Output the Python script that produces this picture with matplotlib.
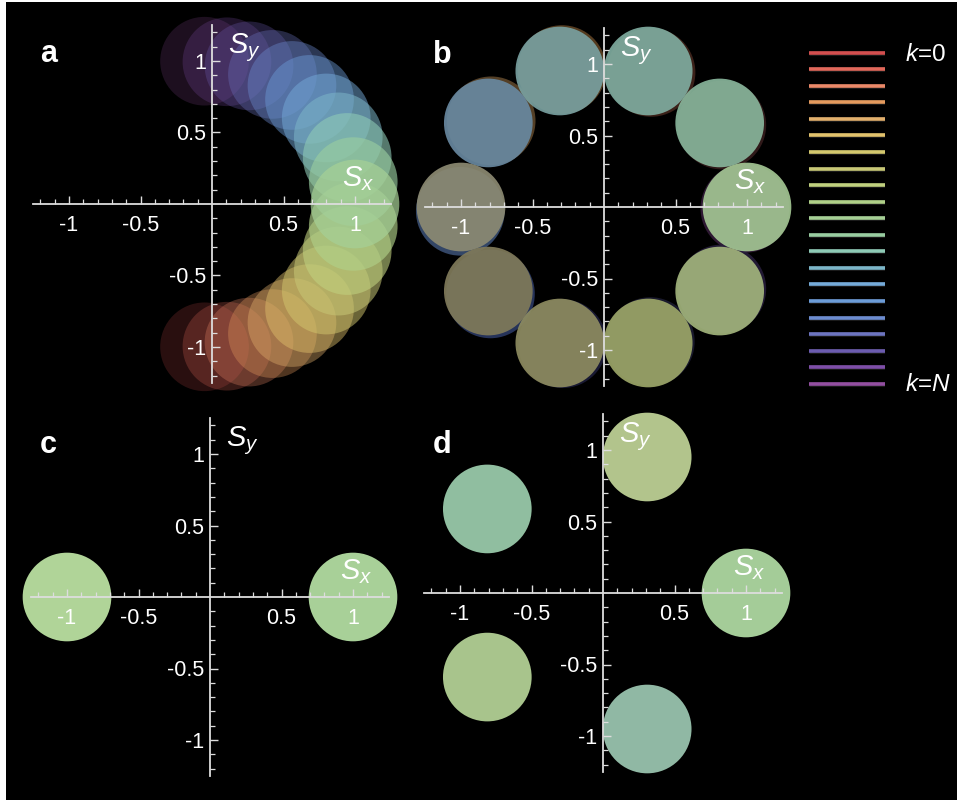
import numpy as np
import matplotlib
matplotlib.use("Agg")
import matplotlib.pyplot as plt
from matplotlib.patches import Circle, Rectangle

plt.rcParams["font.family"] = ["Liberation Sans", "DejaVu Sans"]
plt.rcParams["mathtext.fontset"] = "custom"
plt.rcParams["mathtext.rm"] = "Liberation Sans"
plt.rcParams["mathtext.it"] = "Liberation Sans:italic"
plt.rcParams["mathtext.bf"] = "Liberation Sans:bold"

# ---- data -------------------------------------------------------------
# colours of k = 0 .. N (legend, top to bottom)
k_colors = ["#d24e4e", "#e2685a", "#ea8868", "#e49a5e", "#e2b06c", "#e2c26c",
            "#d4c86e", "#c8c876", "#c0d07e", "#b0d088", "#a6d096", "#98cca0",
            "#8ecab6", "#7cb6c8", "#74aad8", "#6c9cd8", "#6c8cd0", "#6c74c0",
            "#6c5cb0", "#7e4ea8", "#924ea0"]

# panel a: direction of each k state (degrees) and its opacity
a_angle = [-93, -84, -75, -65, -56, -47, -37, -28, -19, -9, 0,
           9, 19, 28, 37, 47, 56, 65, 75, 84, 93]
a_alpha = [0.2, 0.25, 0.3, 0.35, 0.4, 0.45, 0.5, 0.55, 0.6, 0.65, 0.72,
           0.65, 0.6, 0.55, 0.5, 0.45, 0.4, 0.35, 0.3, 0.25, 0.2]

# panel b: ten directions, front colour, colour of the stack behind and its shift
b_angle = [0, 36, 72, 108, 144, 180, 216, 252, 288, 324]
b_front = ["#a3c693", "#88b59b", "#7fac9f", "#78a0a0", "#6888a0",
           "#8c8a72", "#807a5a", "#8e8c60", "#9ca668", "#a2b47c"]
b_back = ["#3a2040", "#3c2020", "#4a2a20", "#6a4a28", "#6a5030",
          "#405880", "#304070", "#202040", "#202038", "#2a2040"]
b_shift_x = [-0.015, 0.015, 0.02, 0.015, 0.02, -0.005, 0.015, 0.02, 0.015, 0.015]
b_shift_y = [-0.01, -0.015, -0.01, 0.01, 0.015, -0.03, -0.02, -0.005, 0.01, 0.015]

# panel c
c_angle = [0, 180]
c_colors = ["#a8d098", "#b0d498"]

# panel d
d_angle = [0, 72, 144, 216, 288]
d_colors = ["#a4cc98", "#b2c48c", "#90bea0", "#a8c48c", "#90b8a4"]

R = 0.31
major = [-1, -0.5, 0.5, 1]
major_lbl = ["-1", "-0.5", "0.5", "1"]
minor = [-1.2, -1.1, -0.9, -0.8, -0.7, -0.6, -0.4, -0.3, -0.2, -0.1,
         0.1, 0.2, 0.3, 0.4, 0.6, 0.7, 0.8, 0.9, 1.1, 1.2]

# ---- figure -----------------------------------------------------------
W, H, DPI = 957, 802, 100
SCALE = 143.0
fig = plt.figure(figsize=(W / DPI, H / DPI), dpi=DPI, facecolor="white")
fig.add_artist(Rectangle((6 / W, 2 / H), (W - 6) / W, (H - 4) / H,
                         transform=fig.transFigure, facecolor="black",
                         edgecolor="none", zorder=-10))


def make_axes(ox, oy):
    half = 1.25 * SCALE
    ax = fig.add_axes([(ox - half) / W, (H - oy - half) / H, 2 * half / W, 2 * half / H])
    ax.set_xlim(-1.25, 1.25)
    ax.set_ylim(-1.25, 1.25)
    ax.set_facecolor("none")
    ax.set_axisbelow(False)
    for s in ["top", "right"]:
        ax.spines[s].set_visible(False)
    for s in ["left", "bottom"]:
        ax.spines[s].set_position("zero")
        ax.spines[s].set_color("#dddddd")
        ax.spines[s].set_linewidth(1.3)
    ax.set_xticks(major)
    ax.set_xticklabels(major_lbl)
    ax.set_yticks(major)
    ax.set_yticklabels(major_lbl)
    ax.set_xticks(minor, minor=True)
    ax.set_yticks(minor, minor=True)
    ax.tick_params(which="both", direction="in", color="#dddddd",
                   labelcolor="white", labelsize=15.5)
    ax.tick_params(which="major", length=6, width=1)
    ax.tick_params(which="minor", length=3.5, width=0.9)
    ax.tick_params(axis="x", pad=8)
    ax.tick_params(axis="y", pad=4)
    ax.text(0.11, 1.09, r"$S_y$", color="white", fontsize=21, ha="left", va="center")
    ax.text(0.91, 0.18, r"$S_x$", color="white", fontsize=21, ha="left", va="center")
    return ax


def disk(ax, ang, color, alpha=1.0, z=1.0, dx=0.0, dy=0.0):
    t = np.deg2rad(ang)
    ax.add_patch(Circle((np.cos(t) + dx, np.sin(t) + dy), R, facecolor=color,
                        edgecolor="none", alpha=alpha, zorder=z, clip_on=False))


# a
ax_a = make_axes(212, 204)
for ang, col, al in zip(a_angle, k_colors, a_alpha):
    disk(ax_a, ang, col, alpha=al, z=1 + al)

# b
ax_b = make_axes(604, 207)
for ang, fr, bk, sx, sy in zip(b_angle, b_front, b_back, b_shift_x, b_shift_y):
    disk(ax_b, ang, bk, alpha=0.8, z=1.0, dx=sx, dy=sy)
    disk(ax_b, ang, fr, alpha=0.92, z=1.5)

# c
ax_c = make_axes(210, 597)
for ang, col in zip(c_angle, c_colors):
    disk(ax_c, ang, col)

# d
ax_d = make_axes(603, 593)
for ang, col in zip(d_angle, d_colors):
    disk(ax_d, ang, col)

# panel letters
for lbl, px, py in [("a", 40, 62), ("b", 433, 63), ("c", 40, 453), ("d", 433, 453)]:
    fig.text(px / W, 1 - py / H, lbl, color="white", fontsize=22,
             fontweight="bold", ha="left", va="baseline")

# legend of k
ax_l = fig.add_axes([809 / W, (H - 390) / H, (885 - 809) / W, (390 - 46) / H])
ax_l.set_xlim(0, 1)
ax_l.set_ylim(20.38, -0.405)
ax_l.axis("off")
for k, col in enumerate(k_colors):
    ax_l.plot([0, 1], [k, k], color="#1a1a1a", lw=3.6, solid_capstyle="butt")
    ax_l.plot([0, 1], [k, k], color=col, lw=2.6, solid_capstyle="butt")
fig.text(905 / W, 1 - 55 / H, r"$k$=0", color="white", fontsize=17.5, ha="left", va="center")
fig.text(905 / W, 1 - 385 / H, r"$k$=$N$", color="white", fontsize=17.5, ha="left", va="center")

fig.savefig("out.png", dpi=DPI, facecolor="white")
